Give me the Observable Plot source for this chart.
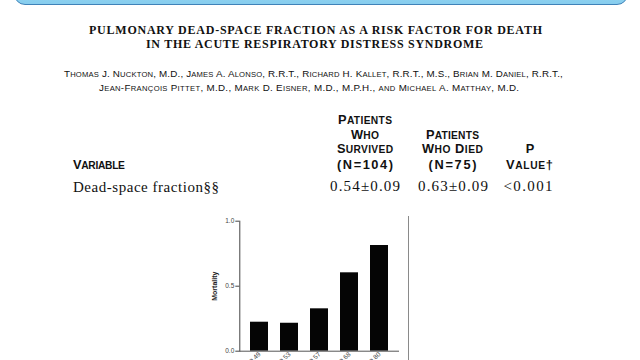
<!DOCTYPE html>
<html>
<head>
<meta charset="utf-8">
<script src="https://cdn.jsdelivr.net/npm/d3@7"></script>
<script src="https://cdn.jsdelivr.net/npm/@observablehq/plot@0.6"></script>
<style>
  html, body { margin: 0; padding: 0; background: #fff; }
  body { width: 640px; height: 360px; overflow: hidden; position: relative; }
  #banner { position: absolute; left: 14px; top: -22px; width: 612px; height: 25px;
    background: linear-gradient(#a6dcf3, #86cdee); border: 1.5px solid #3f82b8; border-radius: 11px; }
  #vline { position: absolute; left: 408px; top: 216px; width: 1px; height: 150px; background: #8a8a8a; z-index: 5; }
  #chart { position: absolute; left: 0; top: 200px; }
</style>
</head>
<body>
<div id="banner"></div>
<div id="chart"></div>
<div id="vline"></div>
<script>
// ---- chart data ----
const quintiles = ["0.26–0.49", "0.50–0.53", "0.54–0.57", "0.58–0.68", "0.69–0.80"];
const mortality = [0.223, 0.215, 0.326, 0.603, 0.813];
const yTicks = [0, 0.5, 1.0];

// ---- table data ----
const titleLines = ["PULMONARY DEAD-SPACE FRACTION AS A RISK FACTOR FOR DEATH",
                    "IN THE ACUTE RESPIRATORY DISTRESS SYNDROME"];
const authorLines = ["Thomas J. Nuckton, M.D., James A. Alonso, R.R.T., Richard H. Kallet, R.R.T., M.S., Brian M. Daniel, R.R.T.,",
                     "Jean-François Pittet, M.D., Mark D. Eisner, M.D., M.P.H., and Michael A. Matthay, M.D."];
const colSurvived = ["Patients", "Who", "Survived", "(N=104)"];
const colDied = ["Patients", "Who Died", "(N=75)"];
const colP = ["P", "Value†"];
const rowLabel = "Dead-space fraction§§";
const rowValues = ["0.54±0.09", "0.63±0.09", "<0.001"];

const SERIF = "'Liberation Serif', 'Times New Roman', serif";
const SANS = "'Liberation Sans', Arial, Helvetica, sans-serif";

function esc(c) { return c.replace(/&/g, "&amp;").replace(/</g, "&lt;").replace(/>/g, "&gt;"); }

function put(txt, o) {
  const el = document.createElement("div");
  if (o.sc) {
    // manual small caps: lowercase letters drawn as smaller capitals
    let html = "";
    for (const c of txt) {
      if (c !== c.toUpperCase()) html += `<span style="font-size:${(o.size * o.sc).toFixed(2)}px">${esc(c.toUpperCase())}</span>`;
      else html += esc(c);
    }
    el.innerHTML = html;
  } else {
    el.textContent = txt;
  }
  Object.assign(el.style, {
    position: "absolute", whiteSpace: "nowrap", fontFamily: o.font, fontSize: o.size + "px",
    fontWeight: o.weight || "normal",
    lineHeight: o.size + "px", top: (o.cy - o.size * 0.5) + "px", left: "0px", color: "#111"
  });
  document.body.appendChild(el);
  let width = el.getBoundingClientRect().width;
  if (o.w) {
    const n = [...txt].length;
    el.style.letterSpacing = ((o.w - width) / Math.max(1, n - 1)) + "px";
    width = o.w;
  }
  el.style.left = (o.x != null ? o.x : o.cx - width / 2) + "px";
  return el;
}

// title
put(titleLines[0], {x: 89, cy: 30, w: 453, font: SERIF, size: 12, weight: "bold"});
put(titleLines[1], {x: 146, cy: 44, w: 337, font: SERIF, size: 12, weight: "bold"});
// authors
put(authorLines[0], {x: 64, cy: 74, w: 499, font: SANS, size: 9.8, sc: 0.78});
put(authorLines[1], {x: 99, cy: 88, w: 420, font: SANS, size: 9.8, sc: 0.78});

// table header
const hs = {font: SANS, size: 12.8, weight: "bold", sc: 0.8};
const ys1 = [120, 135, 149, 165];
const w1 = [54, 28, 56, 56];
colSurvived.forEach((t, i) => put(t, {...hs, cx: 365, cy: ys1[i], w: w1[i]}));
const ys2 = [135, 149, 165];
const w2 = [53, 61, 48];
colDied.forEach((t, i) => put(t, {...hs, cx: 452.5, cy: ys2[i], w: w2[i]}));
put(colP[0], {...hs, cx: 530, cy: 149});
put(colP[1], {...hs, cx: 529.5, cy: 165, w: 47});
put("Variable", {...hs, x: 73, cy: 165, w: 52});

// row
put(rowLabel, {x: 73, cy: 187, w: 146, font: SERIF, size: 15});
const vcx = [365, 453, 528];
const vw = [70, 70, 49];
rowValues.forEach((t, i) => put(t, {cx: vcx[i], cy: 186, w: vw[i], font: SERIF, size: 15}));

// ---- chart ----
const data = quintiles.map((q, i) => ({q, m: mortality[i]}));
const chart = Plot.plot({
  width: 640,
  height: 160,
  marginLeft: 239.3,
  marginRight: 241,
  marginTop: 20.7,
  marginBottom: 9.3,
  style: {fontFamily: SANS, fontSize: "6.5px", color: "#444", background: "transparent", overflow: "visible"},
  x: {domain: quintiles, paddingInner: 0.39, paddingOuter: 0.305, tickRotate: -45, tickSize: 0, tickPadding: 2, label: null},
  y: {domain: [0, 1], ticks: yTicks, tickFormat: d3.format(".1f"), tickSize: 4, tickPadding: 1.5,
      line: true, label: "Mortality", labelAnchor: "center", labelOffset: 28},
  marks: [
    Plot.barY(data, {x: "q", y: "m", fill: "#050505"}),
    Plot.ruleY([0], {stroke: "#555"})
  ]
});
document.getElementById("chart").appendChild(chart);
chart.querySelectorAll("text").forEach(t => {
  if (t.textContent.includes("Mortality")) {
    t.textContent = "Mortality";
    t.setAttribute("font-weight", "bold");
    t.setAttribute("font-size", "7px");
    t.setAttribute("fill", "#222");
  }
});
</script>
</body>
</html>
